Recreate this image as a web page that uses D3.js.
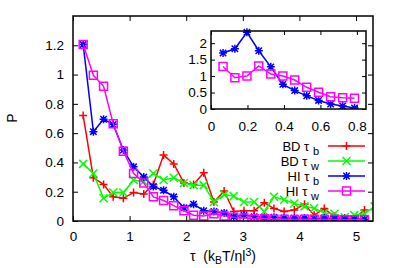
<!DOCTYPE html>
<html>
<head>
<meta charset="utf-8">
<script src="https://cdn.jsdelivr.net/npm/d3@7"></script>
<style>
body { margin: 0; background: #fff; }
text { font-family: "Liberation Sans", Arial, sans-serif; fill: #000; }
</style>
</head>
<body>
<div id="chart"></div>
<script>
// main panel: P(tau)
var tau  = [0.18, 0.36, 0.54, 0.71, 0.89, 1.07, 1.25, 1.42, 1.60, 1.78,
            1.96, 2.13, 2.31, 2.49, 2.67, 2.84, 3.02, 3.20, 3.38, 3.55,
            3.73, 3.91, 4.09, 4.26, 4.44, 4.62, 4.80, 4.97, 5.15, 5.33];
var bdTb = [0.72, 0.295, 0.25, 0.165, 0.155, 0.195, 0.185, 0.25, 0.45, 0.39,
            0.26, 0.25, 0.33, 0.13, 0.205, 0.065, 0.07, 0.07, 0.125, 0.085,
            0.065, 0.075, 0.115, 0.04, 0.085, 0.03, 0.02, 0.015, 0.075];
var bdTw = [0.39, 0.325, 0.155, 0.195, 0.195, 0.28, 0.27, 0.325, 0.28, 0.295,
            0.26, 0.245, 0.245, 0.13, 0.18, 0.17, 0.13, 0.13, 0.065, 0.165,
            0.145, 0.12, 0.1, 0.087, 0.055, 0.05, 0.025, 0.04, 0.05, 0.1];
var hiTb = [1.205, 0.61, 0.695, 0.66, 0.485, 0.37, 0.30, 0.235, 0.21, 0.165,
            0.09, 0.115, 0.07, 0.065, 0.055, 0.03, 0.04, 0.03, 0.025, 0.025,
            0.02, 0.02, 0.02, 0.015, 0.02, 0.015, 0.015, 0.012, 0.012];
var hiTw = [1.205, 0.995, 0.92, 0.665, 0.477, 0.325, 0.26, 0.165, 0.14, 0.105,
            0.07, 0.04, 0.035, 0.05, 0.035, 0.025, 0.02, 0.015, 0.015, 0.012,
            0.012, 0.01, 0.012, 0.01, 0.01, 0.01, 0.008, 0.008, 0.008];

// inset: HI only, short times
var tauIn  = [0.066, 0.131, 0.197, 0.262, 0.328, 0.394, 0.459, 0.525, 0.59, 0.656, 0.722, 0.787];
var hiTbIn = [1.70, 1.83, 2.33, 1.77, 1.28, 0.75, 0.56, 0.40, 0.26, 0.15, 0.09, 0.03];
var hiTwIn = [1.29, 0.95, 1.00, 1.31, 1.06, 1.00, 0.88, 0.66, 0.51, 0.37, 0.34, 0.33];

var xTicks = [0, 1, 2, 3, 4, 5],
    yTicks = [0, 0.2, 0.4, 0.6, 0.8, 1, 1.2],
    xTicksIn = [0, 0.2, 0.4, 0.6, 0.8],
    yTicksIn = [0, 0.5, 1, 1.5, 2];

var series = [
  {lab: "BD \u03c4", sub: "b", color: "#ff0000", pt: "plus",   y: bdTb},
  {lab: "BD \u03c4", sub: "w", color: "#00ff00", pt: "cross",  y: bdTw},
  {lab: "HI \u03c4", sub: "b", color: "#0000ff", pt: "star",   y: hiTb},
  {lab: "HI \u03c4", sub: "w", color: "#ff00ff", pt: "square", y: hiTw}
];

var width = 399, height = 268;
var fmt = d3.format("~g");

var svg = d3.select("#chart").append("svg")
            .attr("width", width)
            .attr("height", height);

// draws one gnuplot point type at (x,y)
function marker(g, type, x, y, color) {
  var s = 4, d;
  if (type == "plus") {
    d = "M" + (x-s) + "," + y + "H" + (x+s) + "M" + x + "," + (y-s) + "V" + (y+s);
  } else if (type == "cross") {
    d = "M" + (x-s) + "," + (y-s) + "L" + (x+s) + "," + (y+s) +
        "M" + (x-s) + "," + (y+s) + "L" + (x+s) + "," + (y-s);
  } else if (type == "star") {
    var t = 3.2;
    d = "M" + (x-s) + "," + y + "H" + (x+s) + "M" + x + "," + (y-s) + "V" + (y+s) +
        "M" + (x-t) + "," + (y-t) + "L" + (x+t) + "," + (y+t) +
        "M" + (x-t) + "," + (y+t) + "L" + (x+t) + "," + (y-t);
  } else {
    d = "M" + (x-s) + "," + (y-s) + "h" + (2*s) + "v" + (2*s) + "h" + (-2*s) + "Z";
  }
  g.append("path").attr("d", d)
   .style("fill", "none").style("stroke", color).style("stroke-width", 1.5);
}

function panel(box, xDom, yDom, xt, yt, opts) {
  var xScale = d3.scaleLinear().domain(xDom).range([box.left, box.right]),
      yScale = d3.scaleLinear().domain(yDom).range([box.bottom, box.top]);
  var g = svg.append("g");
  var tk = opts.tick;

  g.append("g")
   .attr("transform", "translate(0," + box.bottom + ")")
   .call(d3.axisBottom(xScale).tickValues(xt).tickSize(-tk)
           .tickPadding(opts.xpad).tickFormat(fmt));
  g.append("g")
   .attr("transform", "translate(0," + box.top + ")")
   .call(d3.axisTop(xScale).tickValues(xt).tickSize(-tk).tickFormat(""));
  g.append("g")
   .attr("transform", "translate(" + box.left + ",0)")
   .call(d3.axisLeft(yScale).tickValues(yt).tickSize(-tk)
           .tickPadding(opts.ypad).tickFormat(fmt));
  g.append("g")
   .attr("transform", "translate(" + box.right + ",0)")
   .call(d3.axisRight(yScale).tickValues(yt).tickSize(-tk).tickFormat(""));

  g.selectAll(".domain").remove();
  g.selectAll(".tick line").style("stroke", "#000").style("stroke-width", 1);
  g.selectAll(".tick text").style("font-size", opts.fs + "px")
   .style("font-family", "'Liberation Sans', Arial, sans-serif");

  var clipId = "clip" + opts.id;
  svg.append("clipPath").attr("id", clipId)
     .append("rect")
     .attr("x", box.left).attr("y", box.top - 6)
     .attr("width", box.right - box.left).attr("height", box.bottom - box.top + 6);

  var plot = svg.append("g").attr("clip-path", "url(#" + clipId + ")");
  return {x: xScale, y: yScale, g: g, plot: plot};
}

function frame(box) {
  svg.append("rect")
     .attr("x", box.left).attr("y", box.top)
     .attr("width", box.right - box.left).attr("height", box.bottom - box.top)
     .style("fill", "none").style("stroke", "#000").style("stroke-width", 1.5);
}

function drawSeries(p, xs, s) {
  var pts = s.y.map(function(v, i) { return [p.x(xs[i]), p.y(v)]; });
  p.plot.append("path")
   .attr("d", d3.line()(pts))
   .style("fill", "none").style("stroke", s.color).style("stroke-width", 1.5);
  pts.forEach(function(q) { marker(p.plot, s.pt, q[0], q[1], s.color); });
}

// ---- main plot
var mainBox = {left: 73, right: 373, top: 16, bottom: 221};
var main = panel(mainBox, [0, 5.3], [0, 1.4], xTicks, yTicks,
                 {tick: 5, xpad: 10, ypad: 9, fs: 13.5, id: "main"});
series.forEach(function(s) { drawSeries(main, tau, s); });
frame(mainBox);

// legend
var legend = svg.append("g");
series.forEach(function(s, i) {
  var ly = 146 + i * 15;
  var t = legend.append("text")
     .attr("x", 319).attr("y", ly + 5)
     .attr("text-anchor", "end")
     .style("font-size", "13px");
  t.append("tspan").text(s.lab + " ");
  t.append("tspan").attr("dy", 4).style("font-size", "11px").text(s.sub);
  legend.append("line")
     .attr("x1", 328).attr("x2", 365).attr("y1", ly).attr("y2", ly)
     .style("stroke", s.color).style("stroke-width", 1.5);
  marker(legend, s.pt, 346.5, ly, s.color);
});

// axis titles
svg.append("text")
   .attr("transform", "translate(17,118) rotate(-90)")
   .attr("text-anchor", "middle")
   .style("font-size", "14px")
   .text("P");

var xl = svg.append("text")
   .attr("x", 223).attr("y", 261)
   .attr("text-anchor", "middle")
   .style("font-size", "14px")
   .style("white-space", "pre");
xl.append("tspan").text("\u03c4  (k");
xl.append("tspan").attr("dy", 3).style("font-size", "10.5px").text("B");
xl.append("tspan").attr("dy", -3).text("T/\u03b7l");
xl.append("tspan").attr("dy", -5).style("font-size", "10.5px").text("3");
xl.append("tspan").attr("dy", 5).text(")");

// ---- inset
var inBox = {left: 211, right: 366, top: 31, bottom: 109};
var inset = panel(inBox, [0, 0.85], [0, 2.37], xTicksIn, yTicksIn,
                  {tick: 4, xpad: 12, ypad: 4, fs: 13.5, id: "inset"});
drawSeries(inset, tauIn, {color: "#0000ff", pt: "star", y: hiTbIn});
drawSeries(inset, tauIn, {color: "#ff00ff", pt: "square", y: hiTwIn});
frame(inBox);
</script>
</body>
</html>
